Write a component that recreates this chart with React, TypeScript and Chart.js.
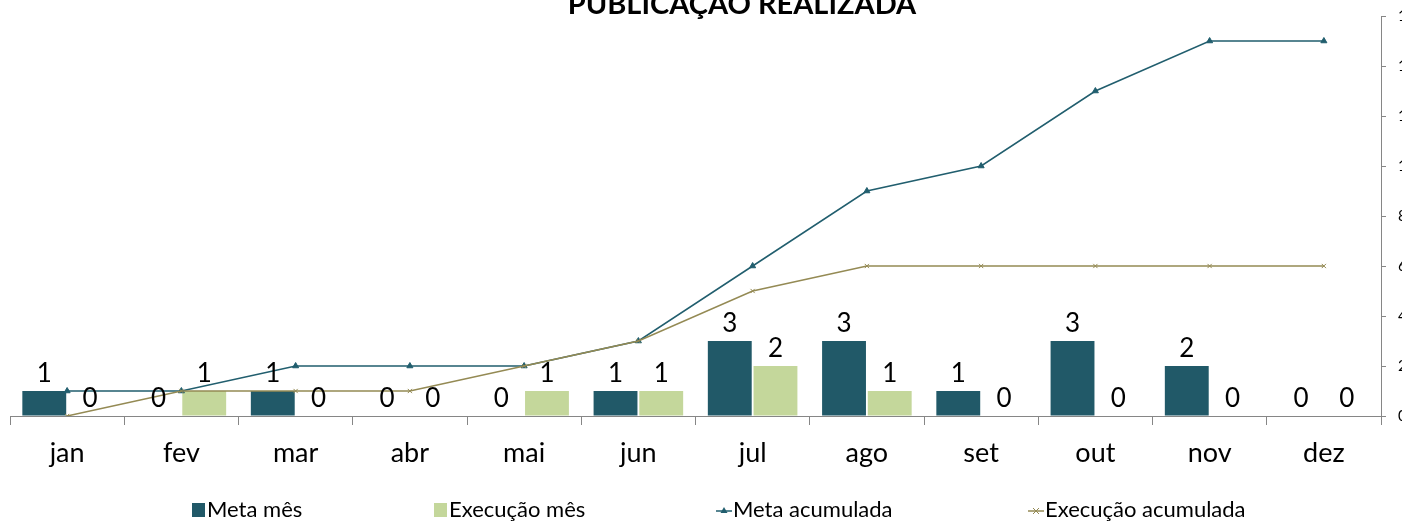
import React, { useEffect, useRef } from "react";
import { Chart, registerables } from "chart.js";
Chart.register(...registerables);

const months = ["jan", "fev", "mar", "abr", "mai", "jun", "jul", "ago", "set", "out", "nov", "dez"];
const metaMes = [1, 0, 1, 0, 0, 1, 3, 3, 1, 3, 2, 0];
const execMes = [0, 1, 0, 0, 1, 1, 2, 1, 0, 0, 0, 0];
const metaAcum = [1, 1, 2, 2, 2, 3, 6, 9, 10, 13, 15, 15];
const execAcum = [0, 1, 1, 1, 2, 3, 5, 6, 6, 6, 6, 6];
const yMin = 0;
const yMax = 16;
const yStep = 2;
const chartTitle = "PUBLICAÇÃO REALIZADA";
const seriesNames = ["Meta mês", "Execução mês", "Meta acumulada", "Execução acumulada"];

const C_META = "#215968";
const C_EXEC = "#C4D79B";
const C_META_LINE = "#215E6E";
const C_EXEC_LINE = "#948A54";
const AXIS = "#868686";
const FONT = "Lato, 'Noto Sans', sans-serif";

const W = 1440;
const H = 528;

const decorPlugin = {
  id: "decor",
  afterDatasetsDraw(chart: any) {
    const ctx = chart.ctx;
    ctx.save();
    ctx.fillStyle = "#000";
    ctx.font = `26px ${FONT}`;
    ctx.textAlign = "center";
    ctx.textBaseline = "alphabetic";
    [0, 1].forEach((di) => {
      const meta = chart.getDatasetMeta(di);
      const data = chart.data.datasets[di].data;
      meta.data.forEach((el: any, i: number) => {
        ctx.fillText(String(data[i]), el.x, el.y - 9);
      });
    });
    ctx.restore();
  },
  afterDraw(chart: any) {
    const ctx = chart.ctx;
    ctx.save();
    ctx.fillStyle = "#000";
    ctx.font = `bold 29px ${FONT}`;
    ctx.textAlign = "center";
    ctx.textBaseline = "alphabetic";
    ctx.fillText(chartTitle, 742, 14);

    const starts = [192, 434, 716, 1028];
    const cy = 510;
    ctx.font = `22px ${FONT}`;
    ctx.textAlign = "left";
    ctx.textBaseline = "middle";
    starts.forEach((x, i) => {
      let tx = x;
      if (i < 2) {
        ctx.fillStyle = i === 0 ? C_META : C_EXEC;
        ctx.fillRect(x, cy - 7, 13, 14);
        tx = x + 15;
      } else {
        const col = i === 2 ? C_META_LINE : C_EXEC_LINE;
        ctx.strokeStyle = col;
        ctx.lineWidth = 1.5;
        ctx.beginPath();
        ctx.moveTo(x, cy + 1);
        ctx.lineTo(x + 16, cy + 1);
        ctx.stroke();
        const mx = x + 8;
        if (i === 2) {
          ctx.fillStyle = col;
          ctx.beginPath();
          ctx.moveTo(mx, cy - 3);
          ctx.lineTo(mx + 3.5, cy + 3);
          ctx.lineTo(mx - 3.5, cy + 3);
          ctx.closePath();
          ctx.fill();
        } else {
          ctx.lineWidth = 1;
          ctx.beginPath();
          ctx.moveTo(mx - 3, cy - 2);
          ctx.lineTo(mx + 3, cy + 4);
          ctx.moveTo(mx + 3, cy - 2);
          ctx.lineTo(mx - 3, cy + 4);
          ctx.stroke();
        }
        tx = x + 17;
      }
      ctx.fillStyle = "#000";
      ctx.fillText(seriesNames[i], tx, cy);
    });
    ctx.restore();
  },
};

export default function App() {
  const ref = useRef<HTMLCanvasElement | null>(null);
  useEffect(() => {
    if (!ref.current) return;
    const chart = new Chart(ref.current, {
      type: "bar",
      data: {
        labels: months,
        datasets: [
          {
            type: "bar",
            label: seriesNames[0],
            data: metaMes,
            backgroundColor: C_META,
            categoryPercentage: 0.8,
            barPercentage: 0.96,
            order: 2,
          },
          {
            type: "bar",
            label: seriesNames[1],
            data: execMes,
            backgroundColor: C_EXEC,
            categoryPercentage: 0.8,
            barPercentage: 0.96,
            order: 2,
          },
          {
            type: "line",
            label: seriesNames[2],
            data: metaAcum,
            borderColor: C_META_LINE,
            backgroundColor: C_META_LINE,
            borderWidth: 1.5,
            pointStyle: "triangle",
            pointRadius: 3.5,
            pointBorderWidth: 1,
            tension: 0,
            order: 1,
          },
          {
            type: "line",
            label: seriesNames[3],
            data: execAcum,
            borderColor: C_EXEC_LINE,
            backgroundColor: C_EXEC_LINE,
            borderWidth: 1.5,
            pointStyle: "crossRot",
            pointRadius: 3,
            pointBorderWidth: 1,
            tension: 0,
            order: 0,
          },
        ],
      } as any,
      options: {
        responsive: false,
        animation: false,
        layout: { padding: { top: 16, left: 10, right: 0, bottom: 48 } },
        plugins: {
          legend: { display: false },
          title: { display: false },
          tooltip: { enabled: false },
        },
        scales: {
          x: {
            offset: true,
            grid: {
              display: true,
              offset: true,
              drawOnChartArea: false,
              drawTicks: true,
              tickLength: 9,
              color: AXIS,
            },
            border: { display: true, color: AXIS },
            ticks: {
              color: "#000",
              font: { family: FONT, size: 27 },
              padding: 12,
              maxRotation: 0,
              autoSkip: false,
            },
            afterFit: (s: any) => {
              s.height = 64;
            },
          },
          y: {
            position: "right",
            min: yMin,
            max: yMax,
            grid: {
              drawOnChartArea: false,
              drawTicks: true,
              tickLength: 5,
              color: AXIS,
            },
            border: { display: true, color: AXIS },
            ticks: {
              stepSize: yStep,
              color: "#000",
              font: { family: FONT, size: 15 },
              padding: 12,
            },
            afterFit: (s: any) => {
              s.width = 59;
              s.paddingTop = 0;
              s.paddingBottom = 0;
            },
          },
        },
      } as any,
      plugins: [decorPlugin],
    });
    return () => chart.destroy();
  }, []);

  return (
    <div
      style={{
        position: "absolute",
        left: 0,
        top: 0,
        width: 1402,
        height: 528,
        overflow: "hidden",
        background: "#fff",
      }}
    >
      <canvas ref={ref} width={W} height={H} style={{ display: "block", width: W, height: H }} />
    </div>
  );
}
